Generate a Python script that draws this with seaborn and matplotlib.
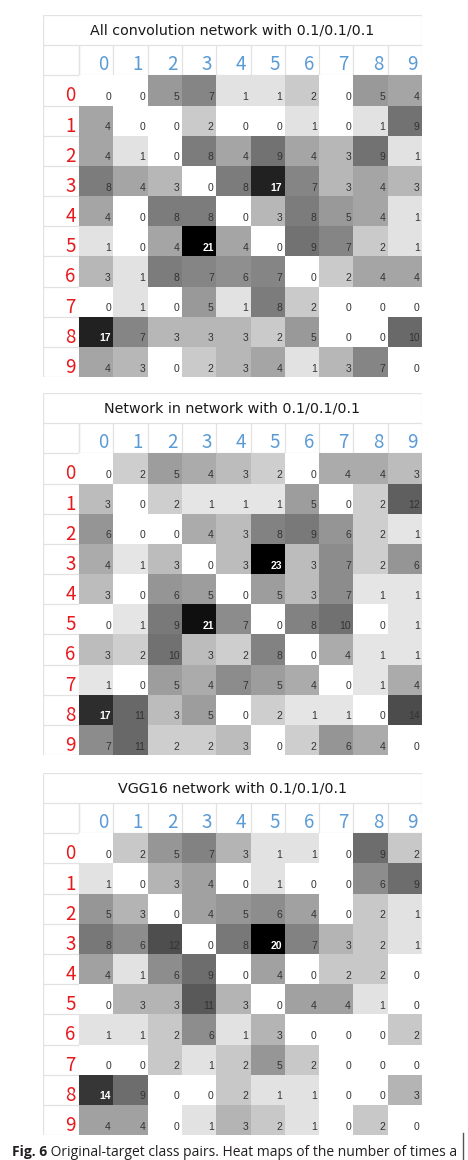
import numpy as np
import pandas as pd
import matplotlib
import matplotlib.pyplot as plt
import seaborn as sns
from matplotlib.colors import LinearSegmentedColormap
from matplotlib.lines import Line2D

# 类别
classes = [str(i) for i in range(10)]

# 三个网络的 original-target 次数矩阵 (行: 原类别, 列: 目标类别)
allconv_counts = [
    [0, 0, 5, 7, 1, 1, 2, 0, 5, 4],
    [4, 0, 0, 2, 0, 0, 1, 0, 1, 9],
    [4, 1, 0, 8, 4, 9, 4, 3, 9, 1],
    [8, 4, 3, 0, 8, 17, 7, 3, 4, 3],
    [4, 0, 8, 8, 0, 3, 8, 5, 4, 1],
    [1, 0, 4, 21, 4, 0, 9, 7, 2, 1],
    [3, 1, 8, 7, 6, 7, 0, 2, 4, 4],
    [0, 1, 0, 5, 1, 8, 2, 0, 0, 0],
    [17, 7, 3, 3, 3, 2, 5, 0, 0, 10],
    [4, 3, 0, 2, 3, 4, 1, 3, 7, 0],
]
nin_counts = [
    [0, 2, 5, 4, 3, 2, 0, 4, 4, 3],
    [3, 0, 2, 1, 1, 1, 5, 0, 2, 12],
    [6, 0, 0, 4, 3, 8, 9, 6, 2, 1],
    [4, 1, 3, 0, 3, 23, 3, 7, 2, 6],
    [3, 0, 6, 5, 0, 5, 3, 7, 1, 1],
    [0, 1, 9, 21, 7, 0, 8, 10, 0, 1],
    [3, 2, 10, 3, 2, 8, 0, 4, 1, 1],
    [1, 0, 5, 4, 7, 5, 4, 0, 1, 4],
    [17, 11, 3, 5, 0, 2, 1, 1, 0, 14],
    [7, 11, 2, 2, 3, 0, 2, 6, 4, 0],
]
vgg_counts = [
    [0, 2, 5, 7, 3, 1, 1, 0, 9, 2],
    [1, 0, 3, 4, 0, 1, 0, 0, 6, 9],
    [5, 3, 0, 4, 5, 6, 4, 0, 2, 1],
    [8, 6, 12, 0, 8, 20, 7, 3, 2, 1],
    [4, 1, 6, 9, 0, 4, 0, 2, 2, 0],
    [0, 3, 3, 11, 3, 0, 4, 4, 1, 0],
    [1, 1, 2, 6, 1, 3, 0, 0, 0, 2],
    [0, 0, 2, 1, 2, 5, 2, 0, 0, 0],
    [14, 9, 0, 0, 2, 1, 1, 0, 0, 3],
    [4, 4, 0, 1, 3, 2, 1, 0, 2, 0],
]

titles = ['All convolution network with 0.1/0.1/0.1',
          'Network in network with 0.1/0.1/0.1',
          'VGG16 network with 0.1/0.1/0.1']
caption_bold = 'Fig. 6'
caption_text = ' Original-target class pairs. Heat maps of the number of times a'

# 灰度色图 (非线性, 小数值也能看到灰色)
grey_cmap = LinearSegmentedColormap.from_list('grey_steps', [
    (0.0, (1, 1, 1)), (0.05, (0.88, 0.88, 0.88)), (0.1, (0.78, 0.78, 0.78)),
    (0.2, (0.63, 0.63, 0.63)), (0.4, (0.47, 0.47, 0.47)), (0.55, (0.35, 0.35, 0.35)),
    (0.75, (0.17, 0.17, 0.17)), (1.0, (0.0, 0.0, 0.0))])

W, H = 468, 1160
fig = plt.figure(figsize=(W / 100, H / 100), dpi=100)

tbl_left, tbl_right = 43, 422
lab_w = 36 / 34.3
panel_px = [(15, 377), (393, 755), (773, 1135)]
line_c = '#e2e2e2'
label_font = ['Noto Sans CJK SC', 'DejaVu Sans']

for k, counts in enumerate([allconv_counts, nin_counts, vgg_counts]):
    top, bot = panel_px[k]
    ax = fig.add_axes([tbl_left / W, 1 - bot / H, (tbl_right - tbl_left) / W, (bot - top) / H])
    df = pd.DataFrame(counts, index=classes, columns=classes)
    vmax = df.values.max()
    sns.heatmap(df, ax=ax, cmap=grey_cmap, vmin=0, vmax=vmax, cbar=False,
                xticklabels=False, yticklabels=False)
    ax.set_xlim(-lab_w, 10)
    ax.set_ylim(10, -2)
    for s in ax.spines.values():
        s.set_visible(False)
    ax.set_xlabel('')
    ax.set_ylabel('')

    # 表格线
    lk = dict(color=line_c, lw=0.9, zorder=0.5)
    ax.hlines([-2, -1, 0, 10], -lab_w, 10, **lk)
    ax.vlines([-lab_w, 10], -2, 10, **lk)
    ax.vlines(range(0, 10), -1, 0, **lk)
    ax.vlines(0, -1, 10, **lk)
    ax.hlines(range(1, 10), -lab_w, 0, **lk)

    # 数字
    for i in range(10):
        for j in range(10):
            v = df.values[i, j]
            dark = v / vmax > 0.62
            ax.text(j + 0.93, i + 0.72, str(v), ha='right', va='center',
                    fontsize=7.5, family=['Liberation Sans', 'DejaVu Sans'],
                    color='white' if dark else '#333333',
                    fontweight='bold' if dark else 'normal')

    # 行/列标签
    for j, c in enumerate(classes):
        ax.text(j + 0.72, -0.36, c, ha='center', va='center', fontsize=13.5,
                color='#5b9bd5', family=label_font)
    for i, c in enumerate(classes):
        ax.text(-0.25, i + 0.68, c, ha='center', va='center', fontsize=13.5,
                color='#e8191d', family=label_font)

    ax.text((10 - lab_w) / 2, -1.5, titles[k], ha='center', va='center',
            fontsize=10.3, color='#1a1a1a', family='DejaVu Sans')

# 图注
cap_y = 1 - 1156 / H
t1 = fig.text(12 / W, cap_y, caption_bold, fontsize=10, fontweight='bold',
              family=['Open Sans', 'DejaVu Sans'], color='#231f20')
fig.canvas.draw()
bb = t1.get_window_extent()
fig.text(bb.x1 / W, cap_y, caption_text, fontsize=10,
         family=['Open Sans', 'DejaVu Sans'], color='#231f20')
fig.add_artist(Line2D([463 / W, 463 / W], [0, 1 - 1133 / H], color='#555555', lw=1,
                      transform=fig.transFigure))

fig.savefig('out.png', dpi=100)
